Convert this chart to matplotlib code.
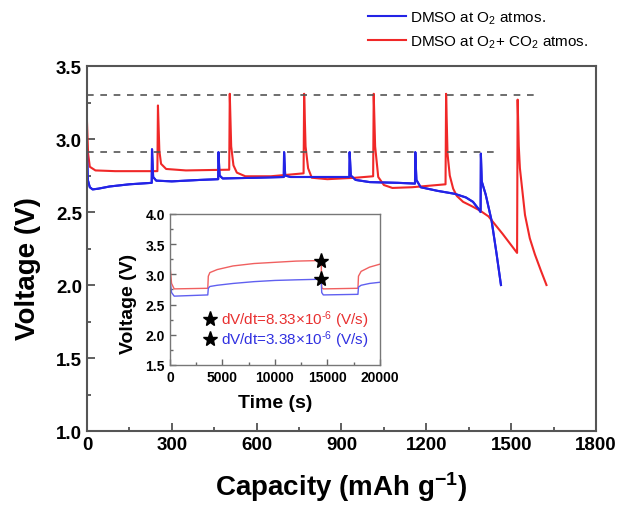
import matplotlib
matplotlib.use("Agg")
import matplotlib.pyplot as plt
from matplotlib.ticker import MultipleLocator

plt.rcParams['font.family'] = ['Liberation Sans', 'DejaVu Sans']
plt.rcParams['mathtext.fontset'] = 'custom'
plt.rcParams['mathtext.rm'] = 'Liberation Sans'
plt.rcParams['mathtext.bf'] = 'Liberation Sans:bold'
plt.rcParams['mathtext.it'] = 'Liberation Sans:italic'

# main chart: capacity (mAh/g) vs voltage (V)
o2_cap = [0, 3, 10, 20, 40, 80, 150, 229, 230, 234, 245, 300, 400, 464, 465, 469,
          480, 600, 696, 697, 701, 720, 850, 928, 929, 933, 950, 1000, 1100, 1160,
          1161, 1165, 1180, 1240, 1300, 1340, 1365, 1385, 1392, 1393, 1396, 1410,
          1431, 1448, 1464]
o2_volt = [2.93, 2.72, 2.67, 2.655, 2.66, 2.675, 2.69, 2.70, 2.93, 2.74, 2.715, 2.71,
           2.72, 2.725, 2.91, 2.75, 2.73, 2.735, 2.74, 2.91, 2.75, 2.74, 2.74, 2.74,
           2.91, 2.75, 2.72, 2.705, 2.70, 2.695, 2.91, 2.72, 2.67, 2.645, 2.625,
           2.60, 2.57, 2.52, 2.50, 2.90, 2.71, 2.62, 2.44, 2.22, 2.00]

co2_cap = [0, 4, 10, 30, 100, 249, 251, 256, 262, 280, 350, 503, 505, 510, 518, 530,
           560, 650, 766, 768, 773, 782, 795, 850, 950, 1012, 1014, 1019, 1030, 1050,
           1080, 1150, 1268, 1270, 1275, 1283, 1295, 1308, 1330, 1361, 1390, 1420,
           1470, 1521, 1523, 1527, 1531, 1549, 1566, 1584, 1605, 1625]
co2_volt = [3.12, 2.90, 2.81, 2.785, 2.78, 2.78, 3.23, 2.92, 2.83, 2.795, 2.785, 2.79,
            3.31, 2.95, 2.82, 2.77, 2.745, 2.745, 2.765, 3.31, 2.95, 2.80, 2.735,
            2.725, 2.735, 2.745, 3.31, 2.95, 2.74, 2.685, 2.665, 2.67, 2.69, 3.31,
            2.90, 2.75, 2.66, 2.61, 2.57, 2.54, 2.51, 2.47, 2.35, 2.22, 3.27, 2.95,
            2.80, 2.48, 2.32, 2.21, 2.10, 2.00]

upper_cut, upper_end = 3.30, 1596
lower_cut, lower_end = 2.91, 1448

# inset: time (s) vs voltage (V)
t_co2 = [0, 150, 400, 3600, 3650, 3800, 4500, 6000, 8000, 10000, 12000, 14400,
         14450, 14600, 17900, 17950, 18200, 19000, 20000]
v_co2 = [3.15, 2.85, 2.76, 2.77, 2.97, 3.03, 3.08, 3.14, 3.18, 3.20, 3.22, 3.23,
         2.78, 2.76, 2.77, 2.97, 3.05, 3.12, 3.17]
t_o2 = [0, 150, 400, 3600, 3650, 3800, 4500, 6000, 8000, 10000, 12000, 14400,
        14450, 14600, 17900, 17950, 18200, 19000, 20000]
v_o2 = [2.92, 2.70, 2.64, 2.66, 2.77, 2.80, 2.82, 2.85, 2.88, 2.90, 2.91, 2.92,
        2.70, 2.66, 2.67, 2.79, 2.82, 2.85, 2.87]
star_t = 14400
star_v = [3.23, 2.92]
rate_co2 = r'dV/dt=8.33$\times$10$^{\text{-}6}$ (V/s)'
rate_o2 = r'dV/dt=3.38$\times$10$^{\text{-}6}$ (V/s)'

blue = '#2323e6'
red = '#f02828'

fig = plt.figure(figsize=(6.19, 5.06), dpi=100)
ax = fig.add_axes([0.1405, 0.1462, 0.8223, 0.7213])

l1, = ax.plot(o2_cap, o2_volt, color=blue, lw=1.5, label='DMSO at O$_2$ atmos.')
l2, = ax.plot(co2_cap, co2_volt, color=red, lw=1.5, label='DMSO at O$_2$+ CO$_2$ atmos.')
ax.plot([0, upper_end], [upper_cut, upper_cut], color='#555555', lw=1.2, ls=(0, (4, 4)))
ax.plot([0, lower_end], [lower_cut, lower_cut], color='#555555', lw=1.2, ls=(0, (4, 4)))
ax.plot(o2_cap, o2_volt, color=blue, lw=1.5)

ax.set_xlim(0, 1800)
ax.set_ylim(1.0, 3.5)
ax.xaxis.set_major_locator(MultipleLocator(300))
ax.xaxis.set_minor_locator(MultipleLocator(150))
ax.yaxis.set_major_locator(MultipleLocator(0.5))
ax.yaxis.set_minor_locator(MultipleLocator(0.25))
ax.tick_params(which='both', direction='in', labelsize=13.5, width=1.2, color='#444444')
ax.tick_params(which='major', length=6)
ax.tick_params(which='minor', length=3)
for lab in ax.get_xticklabels() + ax.get_yticklabels():
    lab.set_fontweight('bold')
for sp in ax.spines.values():
    sp.set_linewidth(1.5)
    sp.set_color('#555555')
ax.set_xlabel('Capacity (mAh g$^{\\mathbf{-1}}$)', fontsize=20, fontweight='bold')
ax.set_ylabel('Voltage (V)', fontsize=20, fontweight='bold')
ax.xaxis.set_label_coords(0.5, -0.105)
ax.yaxis.set_label_coords(-0.09, 0.447)

fig.legend(handles=[l1, l2], loc='upper left', bbox_to_anchor=(0.594, 0.979),
           frameon=False, fontsize=11, handlelength=2.5, handletextpad=0.3,
           borderpad=0, borderaxespad=0, labelspacing=0.5)

# inset
ins = fig.add_axes([0.2746, 0.2767, 0.3393, 0.2984])
ins.plot(t_co2, v_co2, color='#f06060', lw=1)
ins.plot(t_o2, v_o2, color='#6060f0', lw=1)
ins.plot([star_t, star_t], star_v, ls='none', marker='*', ms=11, color='black')
ins.plot([3800], [2.26], ls='none', marker='*', ms=11, color='black')
ins.plot([3800], [1.93], ls='none', marker='*', ms=11, color='black')
ins.text(4900, 2.26, rate_co2, color='#e83030', fontsize=11, va='center')
ins.text(4900, 1.93, rate_o2, color='#3030e0', fontsize=11, va='center')
ins.set_xlim(0, 20000)
ins.set_ylim(1.5, 4.0)
ins.xaxis.set_major_locator(MultipleLocator(5000))
ins.xaxis.set_minor_locator(MultipleLocator(2500))
ins.yaxis.set_major_locator(MultipleLocator(0.5))
ins.yaxis.set_minor_locator(MultipleLocator(0.25))
ins.tick_params(which='both', direction='in', labelsize=10, width=1, color='#666666')
ins.tick_params(which='major', length=4)
ins.tick_params(which='minor', length=2)
for lab in ins.get_xticklabels() + ins.get_yticklabels():
    lab.set_fontweight('bold')
for sp in ins.spines.values():
    sp.set_linewidth(1)
    sp.set_color('#777777')
ins.set_xlabel('Time (s)', fontsize=14, fontweight='bold')
ins.set_ylabel('Voltage (V)', fontsize=14, fontweight='bold')
ins.xaxis.set_label_coords(0.5, -0.19)
ins.yaxis.set_label_coords(-0.157, 0.414)

fig.savefig('out.png', dpi=100)
